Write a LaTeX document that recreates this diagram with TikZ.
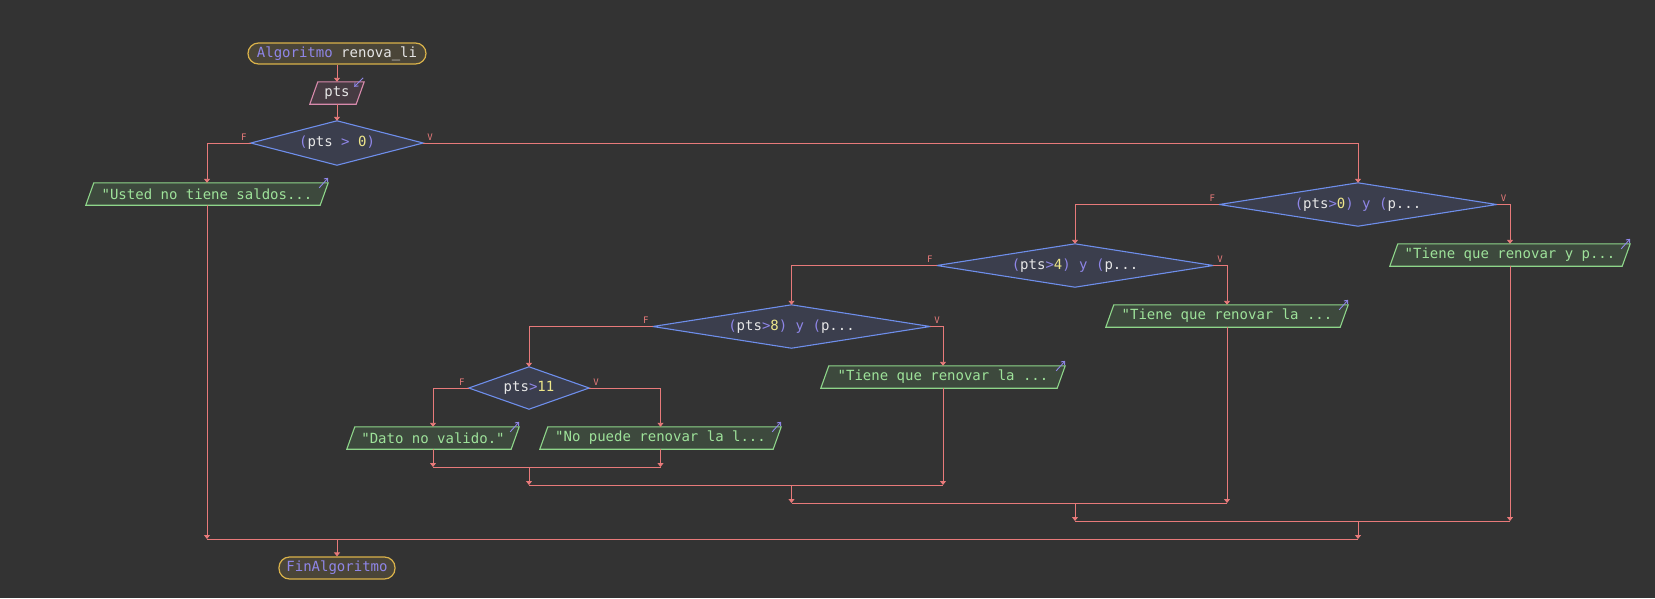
\documentclass[tikz,border=0pt]{standalone}
\usepackage{fontspec}
\setmonofont{DejaVu Sans Mono}
\usetikzlibrary{arrows.meta}

\definecolor{bgc}{HTML}{333333}
\definecolor{wirec}{HTML}{E87A7A}
\definecolor{decB}{HTML}{6E8EEB}
\definecolor{decF}{HTML}{3B3E4D}
\definecolor{termB}{HTML}{D9B24A}
\definecolor{termF}{HTML}{4A4538}
\definecolor{inB}{HTML}{D88AAC}
\definecolor{inF}{HTML}{463B42}
\definecolor{outB}{HTML}{8ED68A}
\definecolor{outF}{HTML}{3D493D}
\definecolor{outT}{HTML}{9EE29A}
\definecolor{kwc}{HTML}{8F86E8}
\definecolor{txtc}{HTML}{E6E6E6}
\definecolor{numc}{HTML}{EEE68A}

\pgfdeclarelayer{shapes}
\pgfsetlayers{shapes,main}

% syntax colouring
\newcommand\Kw[1]{\textcolor{kwc}{#1}}
\newcommand\Nm[1]{\textcolor{numc}{#1}}

% parallelogram around an I/O node
\newcommand\IOpoly[2]{%
  \begin{pgfonlayer}{shapes}
    \path[#2] ([xshift=-4pt]#1.south west) -- ([xshift=-4pt]#1.south east)
      -- ([xshift=4pt]#1.north east) -- ([xshift=4pt]#1.north west) -- cycle;
  \end{pgfonlayer}}
% diamond around a decision node
\newcommand\DecPoly[1]{%
  \begin{pgfonlayer}{shapes}
    \path[decpoly] (#1.north) -- (#1.east) -- (#1.south) -- (#1.west) -- cycle;
  \end{pgfonlayer}}
% small "output" arrow at the top right corner
\newcommand\OutIcon[1]{%
  \draw[ioicon] ([xshift=-5pt,yshift=-5pt]#1.north east) -- ([xshift=4pt,yshift=5pt]#1.north east);}

\tikzset{
  every node/.style={font=\ttfamily\fontsize{14}{16}\selectfont, inner sep=0pt},
  term/.style={draw=termB, fill=termF, line width=1.2pt, rounded corners=10.5pt,
    minimum height=21pt, text=txtc},
  iobody/.style={minimum height=22pt, text=outT},
  decbody/.style={minimum height=43pt, text=txtc},
  outpoly/.style={draw=outB, fill=outF, line width=1.1pt},
  inpoly/.style={draw=inB, fill=inF, line width=1.1pt},
  decpoly/.style={draw=decB, fill=decF, line width=1.1pt},
  wire/.style={draw=wirec, line width=0.9pt},
  flow/.style={wire, -{Triangle[length=4pt,width=6pt]}},
  branch/.style={text=wirec, font=\ttfamily\fontsize{9}{9}\selectfont},
  ioicon/.style={draw=kwc, line width=0.9pt, -{Straight Barb[length=3pt,width=5pt]}},
}

\begin{document}
\begin{tikzpicture}[x=1pt,y=-1pt]
\useasboundingbox (0,0) rectangle (1655,598);
\begin{pgfonlayer}{shapes}
  \fill[bgc] (0,0) rectangle (1655,598);
\end{pgfonlayer}

% ---- nodes ----
\node[term, minimum width=178pt] (start) at (337,53.5) {\Kw{Algoritmo} renova\_li};
\node[iobody, minimum width=46pt, text=txtc] (pts) at (337,93) {pts};
\node[decbody, minimum width=172pt, minimum height=44pt] (d1) at (337,143)
  {\Kw{(}pts \Kw{>} \Nm{0}\Kw{)}};
\node[iobody, minimum width=234pt] (usted) at (207,194) {"Usted no tiene saldos...};
\node[decbody, minimum width=277pt] (d2) at (1358,204.5)
  {\Kw{(}pts\Kw{>}\Nm{0}\Kw{) y (}p...};
\node[iobody, minimum width=232pt] (o2) at (1510,255) {"Tiene que renovar y p...};
\node[decbody, minimum width=276pt] (d3) at (1075,265.5)
  {\Kw{(}pts\Kw{>}\Nm{4}\Kw{) y (}p...};
\node[iobody, minimum width=234pt] (o3) at (1227,316) {"Tiene que renovar la ...};
\node[decbody, minimum width=277pt] (d4) at (791.5,326.5)
  {\Kw{(}pts\Kw{>}\Nm{8}\Kw{) y (}p...};
\node[iobody, minimum width=236pt] (o4) at (943,377) {"Tiene que renovar la ...};
\node[decbody, minimum width=120pt, minimum height=42pt] (d5) at (529,388)
  {pts\Kw{>}\Nm{11}};
\node[iobody, minimum width=164pt] (dato) at (433,438) {"Dato no valido."};
\node[iobody, minimum width=233pt] (nop) at (660.5,438) {"No puede renovar la l...};
\node[term, minimum width=116pt, minimum height=22pt] (end) at (337,568) {\Kw{FinAlgoritmo}};

% ---- shapes ----
\IOpoly{pts}{inpoly}
\foreach \n in {usted,o2,o3,o4,dato,nop} {\IOpoly{\n}{outpoly}}
\foreach \n in {d1,d2,d3,d4,d5} {\DecPoly{\n}}
\foreach \n in {usted,o2,o3,o4,dato,nop} {\OutIcon{\n}}
\draw[ioicon] ([xshift=3pt,yshift=4pt]pts.north east) -- ([xshift=-6pt,yshift=-5pt]pts.north east);

% ---- branches ----
\draw[flow] (start.south) -- (pts.north);
\draw[flow] (pts.south) -- (d1.north);
\foreach \d/\f/\v in {d1/usted/d2, d2/d3/o2, d3/d4/o3, d4/d5/o4, d5/dato/nop} {
  \draw[flow] (\d.west) -| (\f.north);
  \draw[flow] (\d.east) -| (\v.north);
  \node[branch, anchor=south east] at ([xshift=-4pt,yshift=2.5pt]\d.west) {F};
  \node[branch, anchor=south west] at ([xshift=4pt,yshift=2.5pt]\d.east) {V};
}

% ---- joins ----
\coordinate (m5) at (529,467);
\coordinate (m4) at (529,485);
\coordinate (m3) at (791.5,503);
\coordinate (m2) at (1075,521);
\coordinate (m1) at (1358,539);

\draw[flow] (dato.south) -- (dato.south |- m5);
\draw[flow] (nop.south) -- (nop.south |- m5);
\draw[wire] (dato.south |- m5) -- (nop.south |- m5);
\draw[flow] (m5) -- (m4);

\draw[flow] (o4.south) -- (o4.south |- m4);
\draw[wire] (m4) -- (o4.south |- m4);
\draw[flow] (m3 |- m4) -- (m3);

\draw[flow] (o3.south) -- (o3.south |- m3);
\draw[wire] (m3) -- (o3.south |- m3);
\draw[flow] (m2 |- m3) -- (m2);

\draw[flow] (o2.south) -- (o2.south |- m2);
\draw[wire] (m2) -- (o2.south |- m2);
\draw[flow] (m1 |- m2) -- (m1);

\draw[flow] (usted.south) -- (usted.south |- m1);
\draw[wire] (usted.south |- m1) -- (m1);
\draw[flow] (end.north |- m1) -- (end.north);
\end{tikzpicture}
\end{document}
